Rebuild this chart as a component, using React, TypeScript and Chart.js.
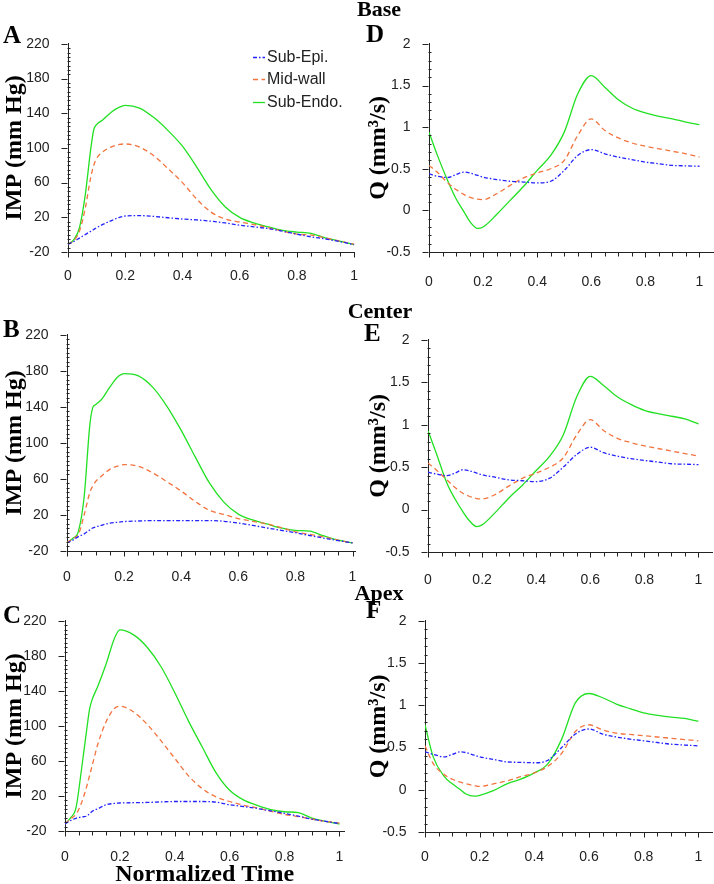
import React, { useEffect, useRef } from 'react';
import { Chart, registerables } from 'chart.js';

Chart.register(...registerables);

// ---------- data ----------
const IMP_T = [0, 0.02, 0.04, 0.06, 0.08, 0.09, 0.1, 0.12, 0.15, 0.18, 0.2, 0.25, 0.3, 0.35, 0.4, 0.45, 0.5, 0.55, 0.6, 0.65, 0.7, 0.75, 0.8, 0.85, 0.9, 0.95, 1];
const Q_T = [0, 0.03, 0.07, 0.1, 0.13, 0.15, 0.18, 0.2, 0.25, 0.3, 0.35, 0.4, 0.45, 0.5, 0.55, 0.6, 0.65, 0.7, 0.75, 0.8, 0.85, 0.9, 0.95, 1];

const X_TICKS = [0, 0.2, 0.4, 0.6, 0.8, 1];
const IMP_TICKS = [-20, 20, 60, 100, 140, 180, 220];
const Q_TICKS = [-0.5, 0, 0.5, 1, 1.5, 2];

const SERIES_LABELS = ['Sub-Epi.', 'Mid-wall', 'Sub-Endo.'];

// Panel A (Base, IMP)
const A_EPI = [-11, -8, -4, 0, 4, 6, 8, 11.5, 16, 20, 21.5, 22, 21, 19.5, 18, 17, 15.5, 13.5, 11, 9, 7, 4, 0.6, -2.5, -5, -8, -11.5];
const A_MID = [-11, -7, 4, 30, 67, 80, 88, 95, 101, 104, 104.6, 101, 91, 76, 60, 41, 26, 18, 14.6, 11.7, 8, 4, 0.6, -0.5, -3.8, -7.5, -11];
const A_ENDO = [-11, -6, 8, 45, 100, 121, 127, 132, 141, 147, 149, 146, 135, 120, 102, 78, 52, 32, 20, 13.5, 9, 5, 3, 1.5, -3.8, -7.5, -11.5];

// Panel B (Center, IMP)
const B_EPI = [-11, -8, -4, -1, 3.5, 5.5, 6.7, 8.5, 11, 12, 12.7, 13.3, 13.8, 13.8, 13.8, 13.8, 13.8, 13, 11, 8.5, 5.6, 3, 0.3, -2.8, -5.8, -8.5, -11];
const B_MID = [-11, -6, -1.5, 20, 45, 52, 57, 63, 70.7, 74.5, 76, 74, 66.8, 57, 46.5, 34.8, 25, 20.5, 16, 13, 10, 6, 1.3, -1.5, -4.4, -8, -11];
const B_ENDO = [-11, -6, 2, 40, 120, 139, 142.5, 148, 162, 174, 177, 174.5, 162, 140.7, 114, 84, 55, 34, 21, 14.5, 10, 5.6, 2.8, 2, -3.3, -8, -11];

// Panel C (Apex, IMP)
const C_EPI = [-12, -8, -5.5, -4, -2.8, 0, 2.7, 5.5, 10, 11.5, 12, 12.3, 12.6, 13.2, 13.7, 13.7, 13.7, 13, 10, 8, 5.7, 3, 0.2, -3, -6.5, -9, -11.5];
const C_MID = [-12, -6, -1, 12, 32, 44, 56, 79.6, 105, 120, 122.5, 116, 101.6, 83, 63, 43, 28.4, 19, 13.7, 9.5, 6.4, 2.5, -1, -3.5, -6.5, -9, -11];
const C_ENDO = [-12, -5, 6.4, 50, 98, 120, 131, 145.6, 171, 200, 209.7, 204, 189.6, 167.6, 138, 105.5, 76, 46.7, 26.5, 15.5, 9.3, 4.5, 2, 1, -5.4, -9, -12];

// Panel D (Base, Q)
const D_EPI = [0.44, 0.41, 0.395, 0.43, 0.46, 0.45, 0.42, 0.4, 0.37, 0.35, 0.34, 0.33, 0.35, 0.48, 0.66, 0.73, 0.68, 0.64, 0.61, 0.58, 0.56, 0.54, 0.535, 0.53];
const D_MID = [0.54, 0.46, 0.33, 0.25, 0.19, 0.16, 0.135, 0.13, 0.2, 0.3, 0.39, 0.45, 0.5, 0.6, 0.9, 1.1, 0.96, 0.87, 0.81, 0.77, 0.74, 0.71, 0.68, 0.64];
const D_ENDO = [0.94, 0.67, 0.35, 0.14, -0.02, -0.13, -0.217, -0.2, -0.05, 0.12, 0.29, 0.48, 0.66, 0.94, 1.4, 1.62, 1.48, 1.33, 1.23, 1.17, 1.13, 1.1, 1.06, 1.03];

// Panel E (Center, Q)
const E_EPI = [0.44, 0.42, 0.4, 0.43, 0.47, 0.46, 0.43, 0.41, 0.38, 0.35, 0.34, 0.33, 0.37, 0.5, 0.65, 0.735, 0.67, 0.63, 0.6, 0.58, 0.56, 0.54, 0.535, 0.53];
const E_MID = [0.55, 0.47, 0.35, 0.26, 0.19, 0.16, 0.13, 0.125, 0.18, 0.28, 0.37, 0.43, 0.5, 0.61, 0.88, 1.06, 0.93, 0.84, 0.79, 0.75, 0.72, 0.69, 0.66, 0.63];
const E_ENDO = [0.93, 0.67, 0.31, 0.125, -0.03, -0.12, -0.2, -0.18, -0.03, 0.14, 0.29, 0.46, 0.63, 0.88, 1.33, 1.57, 1.46, 1.33, 1.24, 1.17, 1.13, 1.1, 1.07, 1.01];

// Panel F (Apex, Q)
const F_EPI = [0.45, 0.42, 0.39, 0.42, 0.45, 0.44, 0.41, 0.39, 0.36, 0.33, 0.325, 0.32, 0.35, 0.5, 0.66, 0.72, 0.66, 0.625, 0.6, 0.58, 0.56, 0.54, 0.53, 0.52];
const F_MID = [0.52, 0.31, 0.18, 0.125, 0.09, 0.07, 0.05, 0.04, 0.07, 0.105, 0.155, 0.2, 0.28, 0.43, 0.69, 0.77, 0.71, 0.67, 0.655, 0.64, 0.625, 0.61, 0.595, 0.58];
const F_ENDO = [0.77, 0.39, 0.16, 0.07, 0.0, -0.05, -0.076, -0.065, -0.01, 0.07, 0.125, 0.2, 0.31, 0.6, 1.03, 1.14, 1.09, 1.015, 0.96, 0.91, 0.88, 0.86, 0.845, 0.81];

// ---------- styles ----------
const SERIF = '"Liberation Serif", "Times New Roman", serif';
const SANS = '"Liberation Sans", Arial, sans-serif';
const STYLES = [
  { color: '#2323ff', dash: [4, 2, 1.5, 2] },
  { color: '#f3743f', dash: [5, 3.5] },
  { color: '#22e022', dash: [] },
];

type PanelDef = {
  kind: 'imp' | 'q';
  t: number[];
  series: number[][];
  area: { l: number; t: number; r: number; b: number };
  colX0: number;
  xMax: number;
  xLabelPad: number;
  xTitle?: boolean;
  legend?: boolean;
};

const PANELS: PanelDef[] = [
  { kind: 'imp', t: IMP_T, series: [A_EPI, A_MID, A_ENDO], area: { l: 68, t: 35, r: 358, b: 252 }, colX0: 0, xMax: 1.003, xLabelPad: 8, legend: true },
  { kind: 'imp', t: IMP_T, series: [B_EPI, B_MID, B_ENDO], area: { l: 67, t: 326, r: 358, b: 551 }, colX0: 0, xMax: 1.012, xLabelPad: 9.5 },
  { kind: 'imp', t: IMP_T, series: [C_EPI, C_MID, C_ENDO], area: { l: 65, t: 612, r: 345, b: 831 }, colX0: 0, xMax: 1.018, xLabelPad: 9.5, xTitle: true },
  { kind: 'q', t: Q_T, series: [D_EPI, D_MID, D_ENDO], area: { l: 429, t: 35, r: 713, b: 252 }, colX0: 364, xMax: 1.05, xLabelPad: 14 },
  { kind: 'q', t: Q_T, series: [E_EPI, E_MID, E_ENDO], area: { l: 428, t: 331, r: 712, b: 552 }, colX0: 364, xMax: 1.05, xLabelPad: 11.5 },
  { kind: 'q', t: Q_T, series: [F_EPI, F_MID, F_ENDO], area: { l: 425, t: 612, r: 712, b: 832 }, colX0: 364, xMax: 1.05, xLabelPad: 9 },
];

const PAD_TOP = 10;
const PAD_RIGHT = 8;

function canvasBox(p: PanelDef) {
  const left = p.colX0;
  const top = p.area.t - PAD_TOP;
  const width = p.area.r - p.colX0 + PAD_RIGHT;
  const bottom = p.area.b > 800 ? 884 : p.area.b + 40;
  return { left, top, width, height: bottom - top, yw: p.area.l - p.colX0, xh: bottom - p.area.b };
}

// ---------- plugins ----------
const axisTicksPlugin = {
  id: 'axisTicks',
  afterDraw(chart: any, _args: any, opts: any) {
    const { ctx } = chart;
    const xs = chart.scales.x;
    const ys = chart.scales.y;
    ctx.save();
    ctx.strokeStyle = '#222';
    ctx.lineWidth = 1;
    ctx.beginPath();
    const yb = Math.round(ys.bottom) + 0.5;
    for (let i = 0; i <= opts.xCount; i++) {
      const px = Math.round(xs.getPixelForValue(i * opts.xStep)) + 0.5;
      const len = i % opts.xMajorEvery === 0 ? 5 : 4;
      ctx.moveTo(px, yb);
      ctx.lineTo(px, yb + len);
    }
    const xl = Math.round(xs.left) - 0.5;
    for (let i = 0; i <= opts.yCount; i++) {
      const py = Math.round(ys.getPixelForValue(opts.yStart + i * opts.yStep)) + 0.5;
      if (i % opts.yMajorEvery === 0) {
        ctx.moveTo(xl - 6, py);
        ctx.lineTo(xl, py);
      } else {
        ctx.moveTo(xl, py);
        ctx.lineTo(xl + 3, py);
      }
    }
    ctx.stroke();
    ctx.restore();
  },
};

const insideLegendPlugin = {
  id: 'insideLegend',
  afterDraw(chart: any, _args: any, opts: any) {
    const { ctx, chartArea } = chart;
    const x0 = chartArea.left + opts.dx;
    const y0 = chartArea.top + opts.dy;
    chart.data.datasets.forEach((ds: any, i: number) => {
      const y = Math.round(y0 + i * opts.rowH) + 0.5;
      ctx.save();
      ctx.strokeStyle = ds.borderColor;
      ctx.lineWidth = ds.borderWidth;
      ctx.setLineDash(ds.borderDash || []);
      ctx.beginPath();
      ctx.moveTo(x0, y);
      ctx.lineTo(x0 + opts.lineW, y);
      ctx.stroke();
      ctx.setLineDash([]);
      ctx.fillStyle = '#222';
      ctx.font = `16px ${SANS}`;
      ctx.textBaseline = 'middle';
      ctx.textAlign = 'left';
      ctx.fillText(ds.label, x0 + opts.lineW + 2, y);
      ctx.restore();
    });
  },
};

function buildConfig(p: PanelDef) {
  const box = canvasBox(p);
  const isImp = p.kind === 'imp';
  const yTicks = isImp ? IMP_TICKS : Q_TICKS;
  const datasets = p.series.map((vals, i) => ({
    label: SERIES_LABELS[i],
    data: p.t.map((x, j) => ({ x, y: vals[j] })),
    borderColor: STYLES[i].color,
    borderDash: STYLES[i].dash,
    borderWidth: 1.3,
    pointRadius: 0,
    fill: false,
    cubicInterpolationMode: 'monotone',
  }));
  const plugins: any[] = [axisTicksPlugin];
  if (p.legend) plugins.push(insideLegendPlugin);
  return {
    type: 'line',
    data: { datasets },
    plugins,
    options: {
      animation: false,
      responsive: false,
      maintainAspectRatio: false,
      devicePixelRatio: 1,
      events: [],
      layout: { padding: { left: 0, top: PAD_TOP, right: PAD_RIGHT, bottom: 0 } },
      plugins: {
        legend: { display: false },
        tooltip: { enabled: false },
        axisTicks: isImp
          ? { xStep: 0.05, xCount: 20, xMajorEvery: 4, yStart: -20, yStep: 5, yCount: 48, yMajorEvery: 8 }
          : { xStep: 0.05, xCount: 20, xMajorEvery: 4, yStart: -0.5, yStep: 0.1, yCount: 25, yMajorEvery: 5 },
        insideLegend: { dx: 185, dy: 13, rowH: 22.5, lineW: 12 },
      },
      scales: {
        x: {
          type: 'linear',
          min: 0,
          max: p.xMax,
          afterBuildTicks: (s: any) => { s.ticks = X_TICKS.map((v) => ({ value: v })); },
          afterFit: (s: any) => { s.height = box.xh; },
          grid: { display: false },
          border: { display: true, color: '#222', width: 1 },
          ticks: {
            autoSkip: false,
            maxRotation: 0,
            padding: p.xLabelPad,
            color: '#222',
            font: { family: SANS, size: 14 },
            callback: (v: any) => String(v),
          },
          title: {
            display: !!p.xTitle,
            text: 'Normalized Time',
            color: '#000',
            padding: 0,
            font: { family: SERIF, size: 24, weight: 'bold', lineHeight: 0.8 },
          },
        },
        y: {
          type: 'linear',
          min: yTicks[0],
          max: yTicks[yTicks.length - 1],
          afterBuildTicks: (s: any) => { s.ticks = yTicks.map((v) => ({ value: v })); },
          afterFit: (s: any) => { s.width = box.yw; },
          grid: { display: false },
          border: { display: true, color: '#222', width: 1 },
          ticks: {
            autoSkip: false,
            padding: 10.5,
            color: '#222',
            font: { family: SANS, size: 14 },
            callback: (v: any) => String(v),
          },
          title: {
            display: true,
            text: isImp ? 'IMP (mm Hg)' : 'Q (mm³/s)',
            color: '#000',
            padding: 0,
            font: { family: SERIF, size: 24, weight: 'bold' },
          },
        },
      },
    },
  } as any;
}

function Panel({ p }: { p: PanelDef }) {
  const ref = useRef<HTMLCanvasElement | null>(null);
  const box = canvasBox(p);
  useEffect(() => {
    if (!ref.current) return;
    const chart = new Chart(ref.current, buildConfig(p));
    return () => chart.destroy();
  }, []);
  return (
    <canvas
      ref={ref}
      width={box.width}
      height={box.height}
      style={{ position: 'absolute', left: box.left, top: box.top, width: box.width, height: box.height }}
    />
  );
}

const ROW_TITLES = [
  { text: 'Base', x: 379, top: -2.4 },
  { text: 'Center', x: 380, top: 299.6 },
  { text: 'Apex', x: 379, top: 581.6 },
];

const PANEL_LETTERS = [
  { text: 'A', x: 3, top: 22 },
  { text: 'B', x: 3, top: 316 },
  { text: 'C', x: 3, top: 602 },
  { text: 'D', x: 366, top: 21 },
  { text: 'E', x: 364, top: 320 },
  { text: 'F', x: 366, top: 597 },
];

export default function App() {
  return (
    <div style={{ position: 'fixed', left: 0, top: 0, width: 714, height: 884, background: '#fff', overflow: 'hidden' }}>
      {PANELS.map((p, i) => (
        <Panel key={i} p={p} />
      ))}
      {ROW_TITLES.map((r) => (
        <div
          key={r.text}
          style={{
            position: 'absolute', left: r.x, top: r.top, transform: 'translateX(-50%)',
            font: `bold 22px ${SERIF}`, lineHeight: '22px', whiteSpace: 'nowrap', color: '#000',
          }}
        >
          {r.text}
        </div>
      ))}
      {PANEL_LETTERS.map((l) => (
        <div
          key={l.text}
          style={{
            position: 'absolute', left: l.x, top: l.top,
            font: `bold 25px ${SERIF}`, lineHeight: '25px', whiteSpace: 'nowrap', color: '#000',
          }}
        >
          {l.text}
        </div>
      ))}
    </div>
  );
}
